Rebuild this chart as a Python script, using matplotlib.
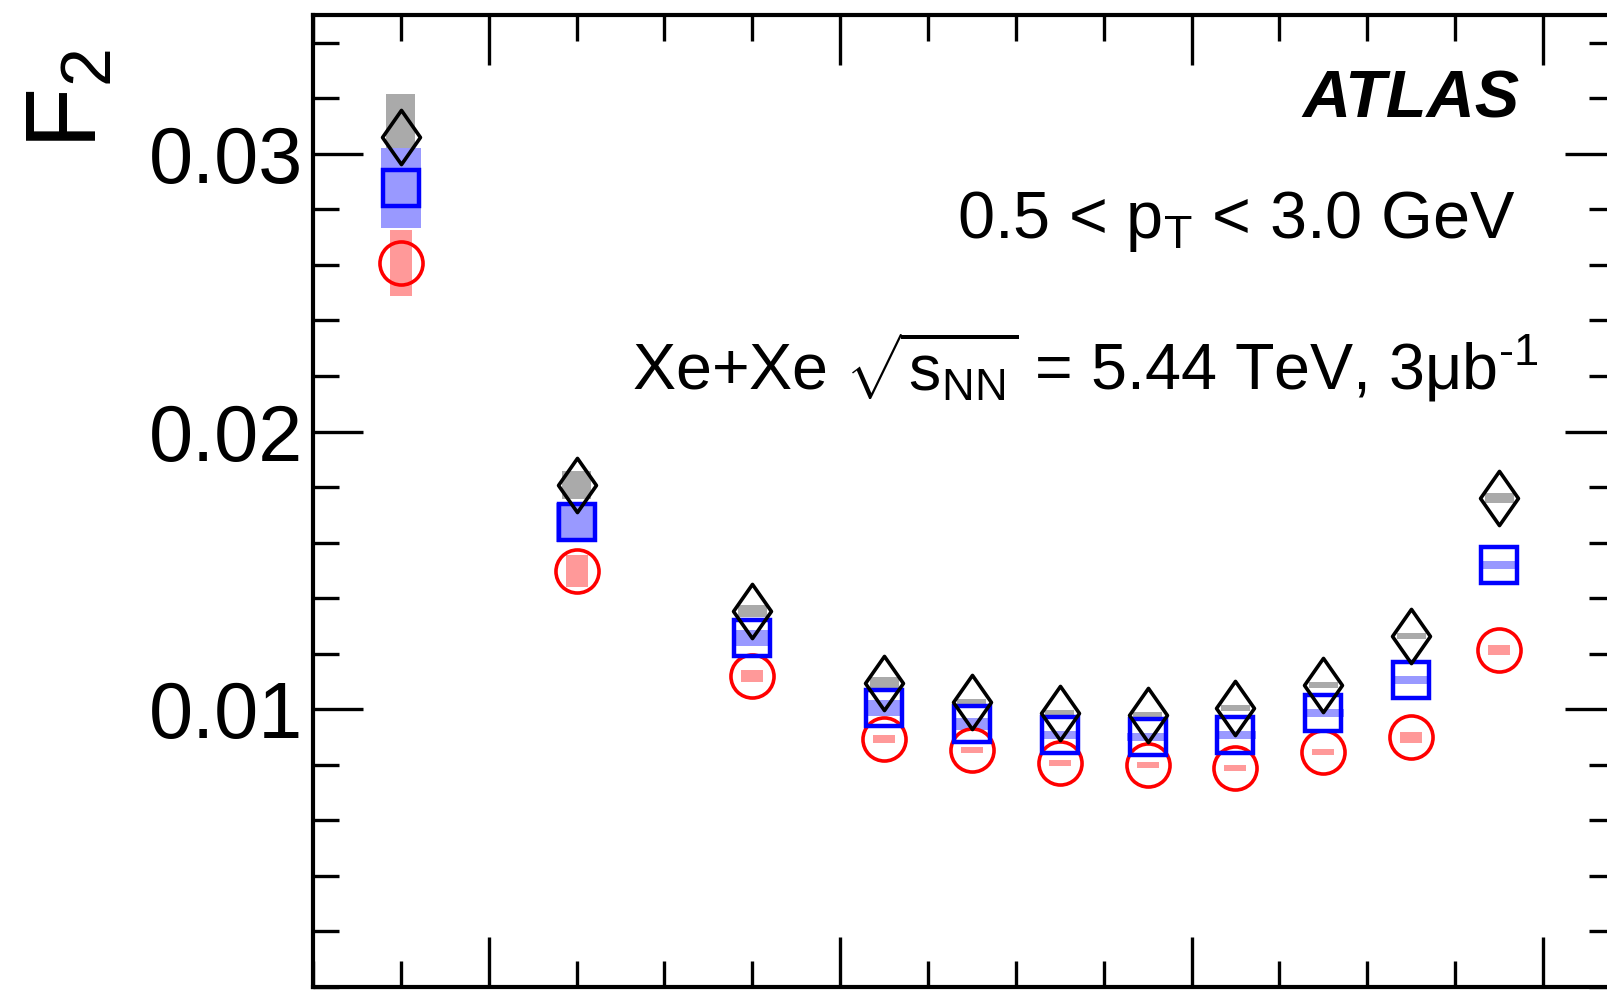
import matplotlib
matplotlib.use('Agg')
import matplotlib.pyplot as plt
from matplotlib.path import Path
from matplotlib.ticker import MultipleLocator, FixedLocator, FormatStrFormatter

plt.rcParams['font.family'] = ['Liberation Sans', 'DejaVu Sans']
plt.rcParams['mathtext.fontset'] = 'custom'
plt.rcParams['mathtext.rm'] = 'Liberation Sans'
plt.rcParams['mathtext.it'] = 'Liberation Sans:italic'
plt.rcParams['mathtext.bf'] = 'Liberation Sans:bold'

# centrality bin centres [%]
cent = [5, 15, 25, 32.5, 37.5, 42.5, 47.5, 52.5, 57.5, 62.5, 67.5]

# F2 values and systematic half-widths, three series
f2_black = [0.0306, 0.01808, 0.01354, 0.01095, 0.01026, 0.00987, 0.00979, 0.01005, 0.01087, 0.01264, 0.01761]
sys_black = [0.00155, 0.0005, 0.0002, 0.0002, 0.00012, 0.0001, 0.0001, 0.00012, 0.00012, 0.00012, 0.00018]
f2_blue = [0.02877, 0.01674, 0.01257, 0.01005, 0.00947, 0.00907, 0.00900, 0.00907, 0.00987, 0.01106, 0.0152]
sys_blue = [0.00145, 0.0007, 0.0003, 0.0003, 0.0002, 0.00015, 0.00015, 0.00015, 0.00015, 0.00015, 0.00015]
f2_red = [0.02607, 0.01498, 0.0112, 0.00893, 0.00853, 0.00807, 0.00799, 0.00789, 0.00846, 0.0090, 0.01214]
sys_red = [0.0012, 0.00058, 0.0002, 0.00015, 0.0001, 0.0001, 0.0001, 0.00012, 0.00012, 0.0002, 0.00018]

W, H = 1608, 991
fig = plt.figure(figsize=(W / 100, H / 100), dpi=100)
ax = fig.add_axes([313 / W, 1 - 987 / H, (1615 - 313) / W, (987 - 15) / H])

# systematic boxes
ax.bar(cent, [2 * s for s in sys_black], width=1.65,
       bottom=[v - s for v, s in zip(f2_black, sys_black)], color='#aaaaaa', lw=0, zorder=1)
ax.bar(cent, [2 * s for s in sys_blue], width=2.3,
       bottom=[v - s for v, s in zip(f2_blue, sys_blue)], color='#9999ff', lw=0, zorder=1)
ax.bar(cent, [2 * s for s in sys_red], width=1.25,
       bottom=[v - s for v, s in zip(f2_red, sys_red)], color='#ff9999', lw=0, zorder=1)

diamond = Path([(0, 1), (0.7, 0), (0, -1), (-0.7, 0), (0, 1)],
               [Path.MOVETO, Path.LINETO, Path.LINETO, Path.LINETO, Path.CLOSEPOLY])

ax.plot(cent, f2_red, 'o', ms=31, mfc='none', mec='#ff0000', mew=2.6, zorder=3)
ax.plot(cent, f2_blue, 's', ms=25.5, mfc='none', mec='#0000ff', mew=3.2, zorder=4)
ax.plot(cent, f2_black, ls='none', marker=diamond, ms=39, mfc='none', mec='black', mew=2.6, zorder=5)

ax.set_xlim(0, 74.1)
ax.set_ylim(0, 0.035)
ax.xaxis.set_major_locator(FixedLocator([10, 30, 50, 70]))
ax.xaxis.set_minor_locator(MultipleLocator(5))
ax.yaxis.set_major_locator(FixedLocator([0.01, 0.02, 0.03]))
ax.yaxis.set_minor_locator(MultipleLocator(0.002))
ax.yaxis.set_major_formatter(FormatStrFormatter('%.2f'))
ax.tick_params(which='both', direction='in', top=True, right=True, labelbottom=False, width=2.4)
ax.tick_params(which='major', length=36, labelsize=57, pad=7)
ax.tick_params(which='minor', length=19)
for sp in ax.spines.values():
    sp.set_linewidth(3)

fig.text(23 / W, 1 - 50 / H, r'F$_{2}$', rotation=90, ha='left', va='top', fontsize=72)

fig.text(1520 / W, 1 - 118 / H, 'ATLAS', ha='right', va='baseline',
         fontsize=48, fontweight='bold', fontstyle='italic')
fig.text(1516 / W, 1 - 238 / H, r'0.5 < p$_{\mathrm{T}}$ < 3.0 GeV', ha='right', va='baseline', fontsize=48)
fig.text(1538 / W, 1 - 390 / H, r'Xe+Xe $\sqrt{\mathrm{s}_{\mathrm{NN}}}$ = 5.44 TeV, 3μb$^{\text{-1}}$',
         ha='right', va='baseline', fontsize=46.5)

fig.savefig('out.png', dpi=100)
